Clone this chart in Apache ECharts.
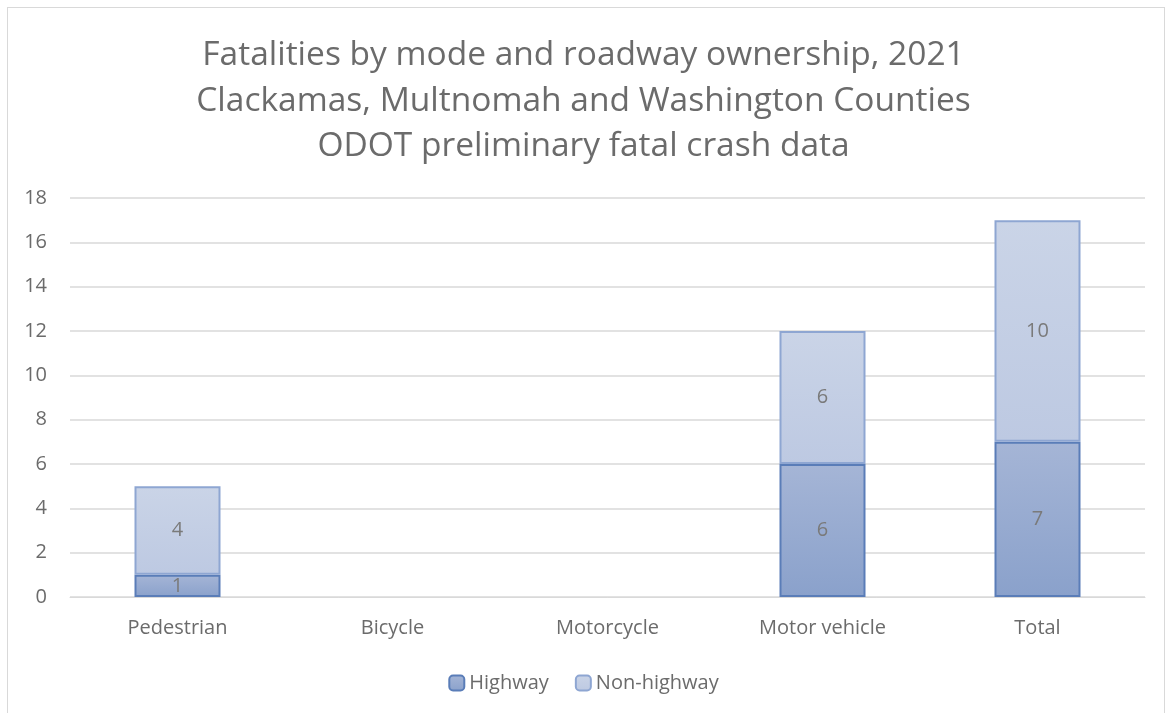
<!DOCTYPE html>
<html>
<head>
<meta charset="utf-8">
<script src="https://cdn.jsdelivr.net/npm/echarts@6/dist/echarts.min.js"></script>
<style>
html,body{margin:0;padding:0;background:#fff;}
#frame{position:absolute;left:7px;top:7px;width:1158px;height:710px;border:1px solid #d9d9d9;box-sizing:border-box;}
#chart{position:absolute;left:0;top:0;width:1167px;height:713px;}
</style>
</head>
<body>
<div id="frame"></div>
<div id="chart"></div>
<script>
const titleLines = ["Fatalities by mode and roadway ownership, 2021", "Clackamas, Multnomah and Washington Counties", "ODOT preliminary fatal crash data"];
const categories = ["Pedestrian", "Bicycle", "Motorcycle", "Motor vehicle", "Total"];
const highway = [1, 0, 0, 6, 7];
const nonHighway = [4, 0, 0, 6, 10];
const yTicks = [0, 2, 4, 6, 8, 10, 12, 14, 16, 18];

const font = "'Open Sans', 'Liberation Sans', sans-serif";
const chart = echarts.init(document.getElementById('chart'), null, {renderer: 'canvas'});
const toData = arr => arr.map(v => v === 0 ? '-' : v);
const lbl = {
  show: true, position: 'inside', color: '#7a7a7a', fontSize: 20, fontFamily: font,
  formatter: p => (p.value && p.value !== '-') ? String(p.value) : ''
};
chart.setOption({
  animation: false,
  title: {
    text: titleLines.join('\n'), left: 'center', top: 28,
    textStyle: {color: '#6b6b6b', fontSize: 33.5, fontWeight: 'normal', fontFamily: font, lineHeight: 45.5}
  },
  legend: {
    bottom: 15, left: 'center', itemWidth: 15, itemHeight: 15, itemGap: 26,
    textStyle: {color: '#6b6b6b', fontSize: 20, fontFamily: font},
    data: ['Highway', 'Non-highway']
  },
  grid: {left: 70, right: 22, top: 198, bottom: 116, containLabel: false},
  xAxis: {
    type: 'category', data: categories,
    axisLine: {lineStyle: {color: '#d9d9d9'}}, axisTick: {show: false},
    axisLabel: {color: '#6b6b6b', fontSize: 20, fontFamily: font, margin: 21}
  },
  yAxis: {
    type: 'value', min: yTicks[0], max: yTicks[yTicks.length - 1], interval: 2,
    axisLine: {show: false}, axisTick: {show: false},
    splitLine: {lineStyle: {color: '#d9d9d9', width: 1.5}},
    axisLabel: {color: '#6b6b6b', fontSize: 20, fontFamily: font, margin: 23, align: 'right'}
  },
  series: [
    {
      name: 'Highway', type: 'bar', stack: 'a', barWidth: '40%', data: toData(highway),
      itemStyle: {
        color: new echarts.graphic.LinearGradient(0, 0, 0, 1, [{offset: 0, color: '#a5b5d6'}, {offset: 1, color: '#8aa1cb'}]),
        borderColor: '#5a7db8', borderWidth: 2
      },
      label: lbl
    },
    {
      name: 'Non-highway', type: 'bar', stack: 'a', barWidth: '40%', data: toData(nonHighway),
      itemStyle: {
        color: new echarts.graphic.LinearGradient(0, 0, 0, 1, [{offset: 0, color: '#cad4e7'}, {offset: 1, color: '#bdc9e2'}]),
        borderColor: '#8ea6d2', borderWidth: 2
      },
      label: lbl
    }
  ]
});
</script>
</body>
</html>
